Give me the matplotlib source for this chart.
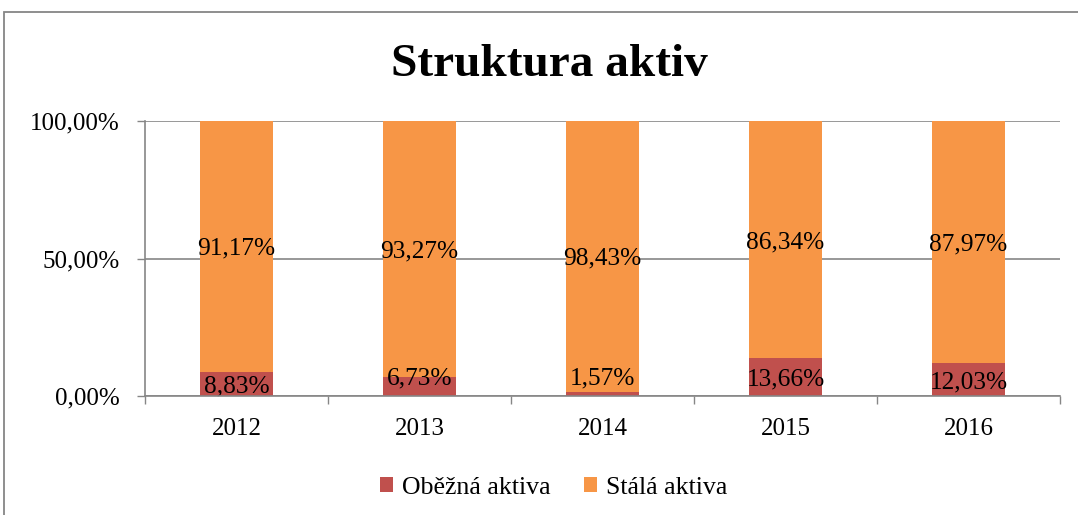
import matplotlib
matplotlib.use("Agg")
import matplotlib.pyplot as plt
from matplotlib.patches import Rectangle

years = ["2012", "2013", "2014", "2015", "2016"]
obezna = [8.83, 6.73, 1.57, 13.66, 12.03]
stala = [91.17, 93.27, 98.43, 86.34, 87.97]
obezna_labels = ["8,83%", "6,73%", "1,57%", "13,66%", "12,03%"]
stala_labels = ["91,17%", "93,27%", "98,43%", "86,34%", "87,97%"]
yticks = [0, 50, 100]
ytick_labels = ["0,00%", "50,00%", "100,00%"]

plt.rcParams['font.family'] = ['Liberation Serif', 'DejaVu Serif']

W, H = 1078, 515
fig = plt.figure(figsize=(W / 100, H / 100), dpi=100)

# outer chart border
fig.patches.append(Rectangle((4 / W, -0.05), 1.2, (H - 12) / H + 0.05,
                             transform=fig.transFigure, fill=False,
                             edgecolor='#868686', linewidth=1.3))

ax = fig.add_axes([145 / W, (H - 396) / H, 915 / W, 275 / H])
x = list(range(len(years)))
red = '#C0504D'
orange = '#F79646'
ax.bar(x, obezna, width=0.4, color=red, label='Oběžná aktiva', zorder=3)
ax.bar(x, stala, width=0.4, bottom=obezna, color=orange, label='Stálá aktiva', zorder=3)

for i in x:
    v = obezna[i]
    ypos = v / 2 if v >= 8 else 7.3
    ax.text(i, ypos, obezna_labels[i], ha='center', va='center_baseline', fontsize=18.3, zorder=4)
    ax.text(i, v + stala[i] / 2, stala_labels[i], ha='center', va='center_baseline',
            fontsize=18.3, zorder=4)

ax.set_xlim(-0.5, len(years) - 0.5)
ax.set_ylim(0, 100)
ax.set_yticks(yticks)
ax.set_yticklabels(ytick_labels, fontsize=18)
ax.tick_params(axis='y', length=6, width=1, color='#868686', pad=12, direction='out')

ax.set_xticks([i - 0.5 for i in range(len(years) + 1)])
ax.set_xticklabels([])
ax.set_xticks(x, minor=True)
ax.set_xticklabels(years, minor=True, fontsize=18)
ax.tick_params(axis='x', which='major', length=6, width=1, color='#868686', direction='out')
ax.tick_params(axis='x', which='minor', length=0, pad=16)

for s in ['top', 'right']:
    ax.spines[s].set_visible(False)
for s in ['left', 'bottom']:
    ax.spines[s].set_color('#868686')
    ax.spines[s].set_linewidth(1.2)
    ax.spines[s].set_zorder(5)

ax.yaxis.grid(True, color='#868686', linewidth=1.2, zorder=1)
ax.set_axisbelow(True)

fig.text(549 / W, 1 - 65 / H, 'Struktura aktiv', ha='center', va='center',
         fontsize=34, fontweight='bold')

fig.legend(loc='center', bbox_to_anchor=(554 / W, 1 - 488 / H), ncol=2, frameon=False,
           fontsize=18.6, handlelength=0.5, handleheight=0.5, handletextpad=0.35,
           columnspacing=1.3)

fig.savefig('out.png', dpi=100)
